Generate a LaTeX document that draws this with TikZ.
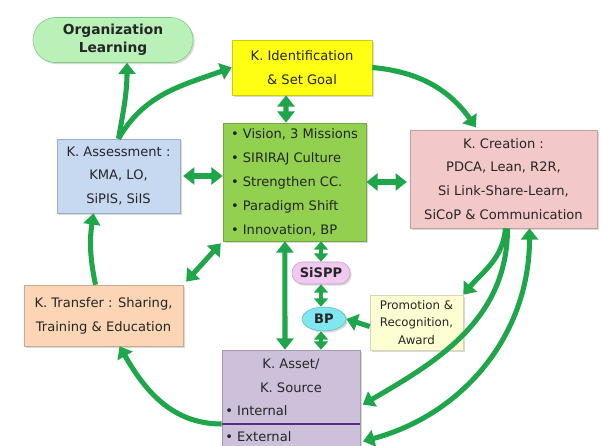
\documentclass[tikz,border=0pt]{standalone}
\usepackage{fontspec}
\setmainfont{DejaVu Sans}
\usetikzlibrary{arrows.meta, shapes.geometric, shadows}

\definecolor{linkgreen}{HTML}{1FA64B}
\definecolor{olfill}{HTML}{B9F1B9}
\definecolor{oldraw}{HTML}{7DCB7D}
\definecolor{identfill}{HTML}{FFFF14}
\definecolor{visionfill}{HTML}{92D050}
\definecolor{assessfill}{HTML}{C6D9F1}
\definecolor{createfill}{HTML}{F2C8C8}
\definecolor{transferfill}{HTML}{FCD5B5}
\definecolor{sisppfill}{HTML}{F0C8F0}
\definecolor{bpfill}{HTML}{80E6F0}
\definecolor{promofill}{HTML}{FFFDD2}
\definecolor{assetfill}{HTML}{CCC0DA}
\definecolor{splitpurple}{HTML}{5B2C82}

\tikzset{>={Triangle[length=8pt, width=12pt]},
  box/.style={rectangle, draw=#1!80!black, fill=#1, line width=0.4pt, align=center, inner sep=2pt,
    text=black!85, font=\fontsize{9.3}{17}\selectfont,
    drop shadow={shadow xshift=1.2pt, shadow yshift=-1.2pt, opacity=0.3}},
  pill/.style={box=#1, font=\fontsize{9.3}{12}\bfseries\selectfont},
  link/.style={draw=linkgreen, line width=3.6pt, ->},
  twolink/.style={link, <->},
  smalllink/.style={draw=linkgreen, line width=3pt, <->, >={Triangle[length=6pt, width=10pt]}},
  plain/.style={align=center, inner sep=0pt, text=black!85, font=\fontsize{9.3}{17}\selectfont}}

\begin{document}
\begin{tikzpicture}[x=0.025cm, y=0.025cm]
    \useasboundingbox (0,0) rectangle (607,446);

    % boxes
    \node[box=olfill, draw=oldraw, rounded corners=0.56cm, minimum width=4cm, minimum height=1.125cm,
        font=\fontsize{9.8}{13}\bfseries\selectfont] (orglearn) at (113,406) {Organization\\Learning};
    \node[box=identfill, minimum width=3.5cm, minimum height=1.375cm] (ident) at (302,378.5) {K. Identification\\\& Set Goal};
    \node[box=visionfill, align=left, minimum width=3.575cm, minimum height=2.95cm] (vision) at (294.5,264)
        {\textbullet\ Vision, 3 Missions\\\textbullet\ SIRIRAJ Culture\\\textbullet\ Strengthen CC.\\\textbullet\ Paradigm Shift\\\textbullet\ Innovation, BP};
    \node[box=assessfill, minimum width=3.075cm, minimum height=1.85cm] (assess) at (118.5,270) {K. Assessment :\\KMA, LO,\\SiPIS, SiIS};
    \node[box=createfill, minimum width=4.675cm, minimum height=2.45cm] (create) at (503.5,267)
        {K. Creation :\\PDCA, Lean, R2R,\\Si Link-Share-Learn,\\SiCoP \& Communication};
    \node[box=transferfill, minimum width=3.975cm, minimum height=1.525cm] (transfer) at (103.5,130.5) {K. Transfer : Sharing,\\Training \& Education};
    \node[pill=sisppfill, rounded corners=0.27cm, minimum width=1.45cm, minimum height=0.55cm] (sispp) at (321,173) {SiSPP};
    \node[pill=bpfill, ellipse, inner sep=0pt, minimum width=1.1cm, minimum height=0.6cm] (bp) at (324,127) {BP};
    \node[box=promofill, draw=promofill!85!black, minimum width=2.325cm, minimum height=1.375cm,
        font=\fontsize{8.4}{12.5}\selectfont] (promo) at (416.5,123.5) {Promotion \&\\Recognition,\\Award};

    % asset box with its two parts
    \node[box=assetfill, minimum width=3.45cm, minimum height=2.6cm] (asset) at (291,44) {};
    \node[plain] (assettitle) at (291,70.5) {K. Asset/\\K. Source};
    \node[plain, anchor=west] (internal) at (225,35) {\textbullet\ Internal};
    \node[plain, anchor=west] (external) at (225,9) {\textbullet\ External};
    \coordinate (split) at (291,22);
    \draw[splitpurple, line width=1.6pt] (asset.west |- split) -- (asset.east |- split);

    % outer cycle
    \draw[link] (assess.north) to[out=80, in=-90] ([xshift=0.35cm]orglearn.south);
    \draw[link] (assess.north) to[out=60, in=200] (ident.west);
    \draw[link, shorten >=2pt] (ident.east) to[out=-5, in=125] ([xshift=-0.65cm]create.north);
    \draw[link] ([xshift=0.05cm]create.south) to[out=-95, in=50] (promo.north east);
    \draw[link, shorten >=2pt] ([xshift=0.1cm]create.south) to[out=-90, in=30] ([yshift=-0.1cm]asset.east);
    \draw[twolink, shorten <=2pt] ([yshift=-1cm]asset.east) to[out=15, in=-90] ([xshift=0.65cm]create.south);
    \draw[link] ([yshift=-0.55cm]asset.west) to[out=180, in=-60] ([xshift=0.4cm]transfer.south);
    \draw[link] ([xshift=-0.2cm]transfer.north) to[bend left=10] ([xshift=-0.625cm]assess.south);

    % links to the centre
    \draw[twolink] ([xshift=-0.4cm]ident.south) -- ([xshift=-0.2125cm]vision.north);
    \draw[twolink, shorten <=2pt] (assess.east) -- (assess.east -| vision.west);
    \draw[twolink, shorten >=2pt] (vision.east) -- (vision.east -| create.west);
    \draw[twolink, shorten <=3pt, shorten >=2pt] (transfer.north east) -- (vision.south west);
    \draw[twolink] ([xshift=-0.24cm]vision.south) -- ([xshift=-0.15cm]asset.north);

    % SiSPP and BP chain
    \draw[smalllink] (sispp.north |- vision.south) -- (sispp.north);
    \draw[smalllink] (sispp.south) -- (sispp.south |- bp.north);
    \draw[smalllink] (bp.south -| sispp.south) -- (asset.north -| sispp.south);
    \draw[link] ([yshift=-0.1cm]promo.west) -- (bp.east);
\end{tikzpicture}
\end{document}
